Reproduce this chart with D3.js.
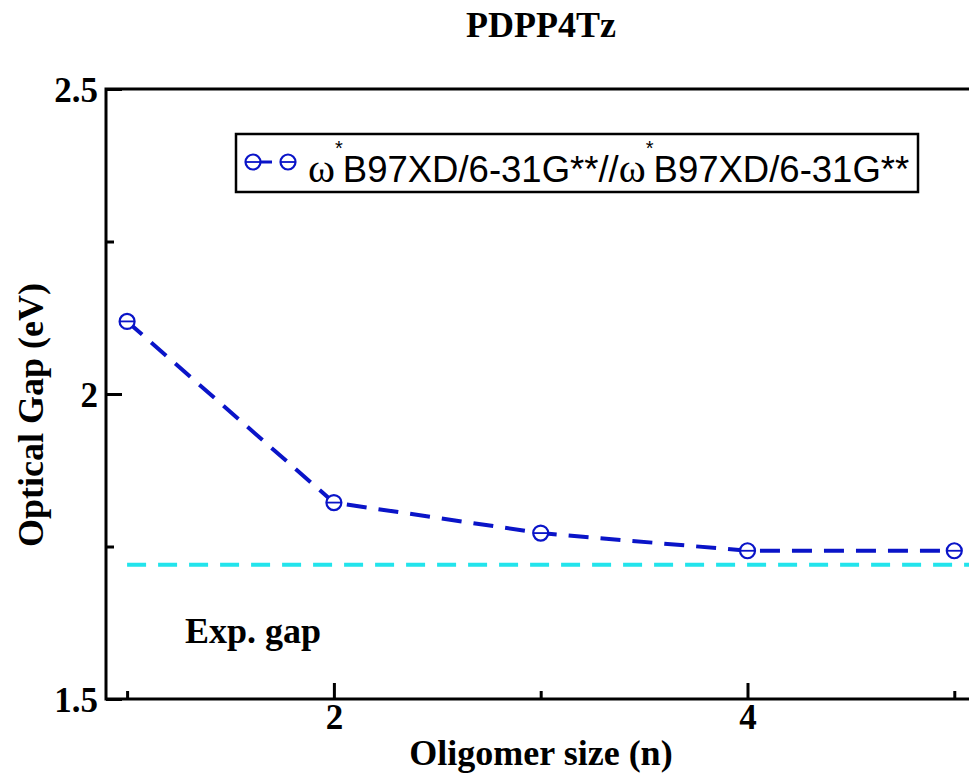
<!DOCTYPE html>
<html>
<head>
<meta charset="utf-8">
<script src="https://cdn.jsdelivr.net/npm/d3@7"></script>
<style>
  body { margin: 0; background: #fff; }
  svg { display: block; }
</style>
</head>
<body>
<div id="chart"></div>
<script>
// data
var oligomerSize = [1, 2, 3, 4, 5];
var opticalGap = [2.119, 1.822, 1.772, 1.743, 1.743];
var expGap = 1.720;
var xMajorTicks = [2, 4];
var xMinorTicks = [1, 3, 5];
var yMajorTicks = [1.5, 2, 2.5];
var yMinorTicks = [1.75, 2.25];

var W = 969, H = 774;

var svg = d3.select("#chart").append("svg")
    .attr("width", W)
    .attr("height", H);

// frame runs off the right edge of the picture
var x = d3.scaleLinear().domain([0.898, 5.1]).range([106, 106 + 4.202 * 206.8]);
var y = d3.scaleLinear().domain([1.5, 2.5]).range([699, 89]);

var serif = "'Liberation Serif', 'Times New Roman', serif";
var sans = "'Liberation Sans', Arial, sans-serif";
var blue = "#0a14c8";

// frame
svg.append("rect")
    .attr("x", x.range()[0])
    .attr("y", y(2.5))
    .attr("width", x.range()[1] - x.range()[0])
    .attr("height", y(1.5) - y(2.5))
    .attr("fill", "none")
    .attr("stroke", "#000")
    .attr("stroke-width", 3);

// x axis (ticks pointing in)
var xAxis = svg.append("g").attr("transform", "translate(0," + y(1.5) + ")");
xAxis.call(d3.axisBottom(x).tickValues(xMajorTicks).tickSizeInner(-16).tickSizeOuter(0).tickPadding(30).tickFormat(d3.format("d")));
xAxis.append("g").call(d3.axisBottom(x).tickValues(xMinorTicks).tickSizeInner(-8).tickSizeOuter(0).tickFormat(""));
xAxis.selectAll(".domain").remove();
xAxis.selectAll("line").attr("stroke", "#000").attr("stroke-width", 3);
xAxis.selectAll("text")
    .attr("font-family", serif).attr("font-weight", "bold").attr("font-size", 35)
    .attr("fill", "#000").attr("dy", 0);

// y axis
var yAxis = svg.append("g").attr("transform", "translate(" + x.range()[0] + ",0)");
yAxis.call(d3.axisLeft(y).tickValues(yMajorTicks).tickSizeInner(-16).tickSizeOuter(0).tickPadding(8).tickFormat(d3.format("")));
yAxis.append("g").call(d3.axisLeft(y).tickValues(yMinorTicks).tickSizeInner(-8).tickSizeOuter(0).tickFormat(""));
yAxis.selectAll(".domain").remove();
yAxis.selectAll("line").attr("stroke", "#000").attr("stroke-width", 3);
yAxis.selectAll("text")
    .attr("font-family", serif).attr("font-weight", "bold").attr("font-size", 35)
    .attr("fill", "#000").attr("x", -8).attr("dy", "0.35em");

// experimental gap line
svg.append("line")
    .attr("x1", x(1)).attr("x2", x.range()[1])
    .attr("y1", y(expGap)).attr("y2", y(expGap))
    .attr("stroke", "#22e4ec")
    .attr("stroke-width", 4)
    .attr("stroke-dasharray", "19,12");

// computed series
var pts = oligomerSize.map(function(d, i) { return [d, opticalGap[i]]; });
var line = d3.line()
    .x(function(d) { return x(d[0]); })
    .y(function(d) { return y(d[1]); });

svg.append("path")
    .datum(pts)
    .attr("d", line)
    .attr("fill", "none")
    .attr("stroke", blue)
    .attr("stroke-width", 4)
    .attr("stroke-dasharray", "20,12");

var drawMarker = function(g, cx, cy) {
  g.append("circle")
    .attr("cx", cx).attr("cy", cy).attr("r", 7.5)
    .attr("fill", "#fff")
    .attr("stroke", blue)
    .attr("stroke-width", 2.2);
  g.append("line")
    .attr("x1", cx - 7.5).attr("x2", cx + 7.5)
    .attr("y1", cy).attr("y2", cy)
    .attr("stroke", blue)
    .attr("stroke-width", 1.8);
};

var markers = svg.append("g");
pts.forEach(function(d) { drawMarker(markers, x(d[0]), y(d[1])); });

// legend
var lg = svg.append("g");
lg.append("rect")
    .attr("x", 236).attr("y", 134)
    .attr("width", 682).attr("height", 58)
    .attr("fill", "#fff")
    .attr("stroke", "#000")
    .attr("stroke-width", 2.5);
lg.append("line")
    .attr("x1", 260).attr("x2", 272)
    .attr("y1", 162).attr("y2", 162)
    .attr("stroke", blue).attr("stroke-width", 3);
drawMarker(lg, 253, 162);
drawMarker(lg, 288, 162);

var lt = lg.append("text")
    .attr("x", 308).attr("y", 182)
    .attr("font-family", sans).attr("font-size", 36.5).attr("fill", "#000");
var addMethod = function() {
  lt.append("tspan").attr("font-family", serif).attr("font-size", 41).text("ω");
  lt.append("tspan").attr("font-size", 20).attr("dy", -27).text("*");
  lt.append("tspan").attr("dy", 27).text("B97XD/6-31G**");
};
addMethod();
lt.append("tspan").text("//");
addMethod();

// labels
svg.append("text")
    .attr("x", 541).attr("y", 37)
    .attr("text-anchor", "middle")
    .attr("font-family", serif).attr("font-weight", "bold").attr("font-size", 36)
    .text("PDPP4Tz");

svg.append("text")
    .attr("x", 541).attr("y", 765)
    .attr("text-anchor", "middle")
    .attr("font-family", serif).attr("font-weight", "bold").attr("font-size", 36)
    .text("Oligomer size (n)");

svg.append("text")
    .attr("transform", "translate(43,415) rotate(-90)")
    .attr("text-anchor", "middle")
    .attr("font-family", serif).attr("font-weight", "bold").attr("font-size", 36)
    .text("Optical Gap (eV)");

svg.append("text")
    .attr("x", 185).attr("y", 643)
    .attr("font-family", serif).attr("font-weight", "bold").attr("font-size", 36)
    .text("Exp. gap");
</script>
</body>
</html>
